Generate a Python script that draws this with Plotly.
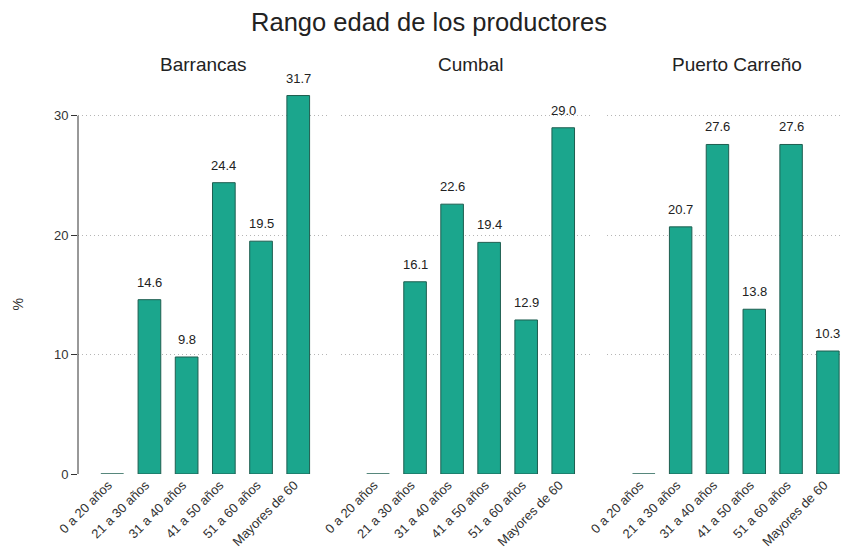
import plotly.graph_objects as go
from plotly.subplots import make_subplots

categorias = ["0 a 20 años", "21 a 30 años", "31 a 40 años", "41 a 50 años", "51 a 60 años", "Mayores de 60"]
municipios = ["Barrancas", "Cumbal", "Puerto Carreño"]
barrancas = [0, 14.6, 9.8, 24.4, 19.5, 31.7]
cumbal = [0, 16.1, 22.6, 19.4, 12.9, 29.0]
puerto_carreno = [0, 20.7, 27.6, 13.8, 27.6, 10.3]
y_ticks = [0, 10, 20, 30]

series = [barrancas, cumbal, puerto_carreno]

# page body adds 8px, so figure is 842x540 inside the 850x548 window
W, H = 842, 540

fig = make_subplots(rows=1, cols=3, shared_yaxes=True, subplot_titles=municipios)

for i, valores in enumerate(series):
    fig.add_trace(go.Bar(x=categorias, y=valores, cliponaxis=False,
                         marker=dict(color="#1ba68d", line=dict(color="#1e5e50", width=1)),
                         width=0.61, showlegend=False), row=1, col=i + 1)
    # value labels a bit above the bars
    for c, v in zip(categorias, valores):
        if v == 0:
            continue
        fig.add_annotation(x=c, y=v, text=f"{v:.1f}", showarrow=False, yanchor="bottom", yshift=8,
                           font=dict(size=13, color="#222222"), row=1, col=i + 1)

dominios = [(70 / W, 320 / W), (333 / W, 583 / W), (599 / W, 1.0)]
rangos = [[-0.92, 5.8], [-1.0, 5.75], [-1.0, 5.6]]
for i in range(3):
    fig.update_xaxes(domain=dominios[i], range=rangos[i], row=1, col=i + 1)

fig.update_xaxes(tickangle=-45, showline=False, showgrid=False, ticks="", automargin=False,
                 ticklabelshift=-4, tickfont=dict(size=13, color="#333333"), fixedrange=True)
fig.update_yaxes(range=[0, 33], tickvals=y_ticks, showgrid=True, gridcolor="#b5b5b5",
                 griddash="1px,3px", gridwidth=1, zeroline=False, showline=False, automargin=False)
fig.update_yaxes(ticks="outside", ticklen=6, tickcolor="#333333",
                 tickfont=dict(size=13, color="#333333"), row=1, col=1)

# y axis line only from 0 to 30
fig.add_shape(type="line", xref="x domain", yref="y", x0=0, x1=0, y0=y_ticks[0], y1=y_ticks[-1],
              line=dict(color="#333333", width=1))

# subplot titles centred like the reference
centros = [195, 462, 729]
for ann in fig.layout.annotations:
    if ann.text in municipios:
        ann.font = dict(size=19, color="#222222")
        ann.x = centros[municipios.index(ann.text)] / W
        ann.y = 1.0
        ann.yshift = 3

# "%" axis title
fig.add_annotation(text="%", xref="paper", yref="paper", x=10 / W, y=0.43, textangle=-90,
                   xanchor="center", yanchor="middle", showarrow=False,
                   font=dict(size=14, color="#333333"))

fig.update_layout(
    title=dict(text="Rango edad de los productores", x=0.5, xanchor="center",
               y=1 - 14 / H, yanchor="middle", font=dict(size=25.5, color="#222222")),
    font=dict(family="Liberation Sans, Arial, sans-serif"),
    width=W, height=H,
    margin=dict(l=0, r=0, t=72, b=74, autoexpand=False),
    plot_bgcolor="white", paper_bgcolor="white",
)

fig.write_html("out.html")
